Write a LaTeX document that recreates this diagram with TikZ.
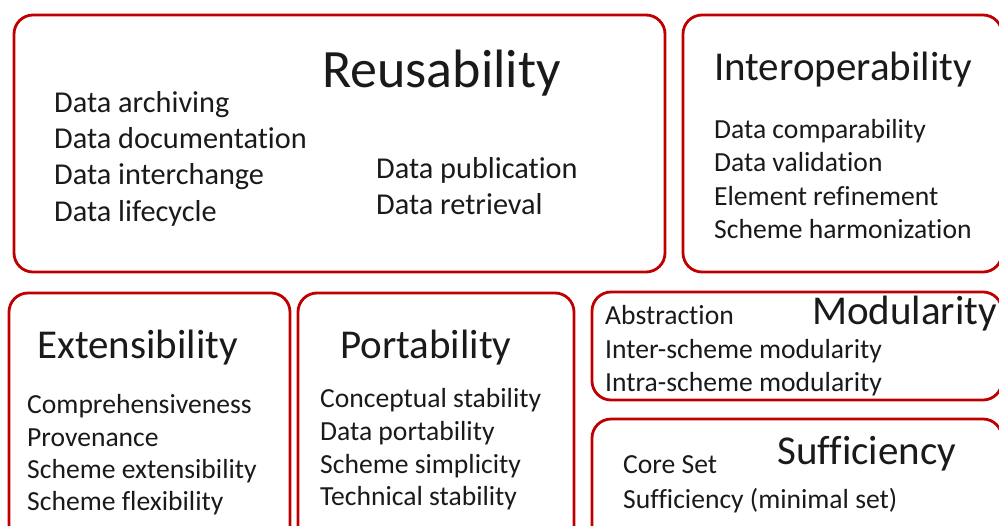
\documentclass[tikz,border=0pt]{standalone}
\usepackage{fontspec}
\setmainfont{Carlito}[RawFeature={-liga;-clig;-dlig;-calt}]
\definecolor{boxred}{HTML}{C00000}
\definecolor{ink}{HTML}{1A1A1A}
\tikzset{
  card/.style={draw=boxred, line width=2.8pt, rounded corners=19pt, fill=white},
  ttl/.style={anchor=base west, inner sep=0pt, text=ink, font=\fontsize{41}{49}\selectfont},
  bigttl/.style={anchor=base west, inner sep=0pt, text=ink, font=\fontsize{54}{64}\selectfont},
  itm/.style={anchor=base west, inner sep=0pt, text=ink, font=\fontsize{27.6}{33}\selectfont},
  bigitm/.style={anchor=base west, inner sep=0pt, text=ink, font=\fontsize{30.3}{36}\selectfont}
}
\begin{document}
\begin{tikzpicture}[x=1pt,y=-1pt]
\useasboundingbox (0,0) rectangle (999,525);
\clip (0,0) rectangle (999,525);
\fill[white] (0,0) rectangle (999,525);
% boxes
\draw[card] (14,15) rectangle (665,272);
\draw[card] (683,15) rectangle (1002,272);
\draw[card] (9,293) rectangle (290,545);
\draw[card] (298,293) rectangle (574,545);
\draw[card] (592,292) rectangle (1002,400);
\draw[card] (592,419) rectangle (1002,545);
% Reusability
\node[bigttl] (reu) at (322,87) {Reusability};
\node[bigitm] (r1) at (54,112) {Data archiving};
\node[bigitm] (r2) at (54,148) {Data documentation};
\node[bigitm] (r3) at (54,184) {Data interchange};
\node[bigitm] (r4) at (54,221) {Data lifecycle};
\node[bigitm] (r5) at (376,178) {Data publication};
\node[bigitm] (r6) at (376,214) {Data retrieval};
% Interoperability
\node[ttl] (int) at (714,80) {Interoperability};
\node[itm] (i1) at (714,138) {Data comparability};
\node[itm] (i2) at (714,171) {Data validation};
\node[itm] (i3) at (714,205) {Element refinement};
\node[itm] (i4) at (714,238) {Scheme harmonization};
% Extensibility
\node[ttl] (ext) at (37,358) {Extensibility};
\node[itm] (e1) at (27,413) {Comprehensiveness};
\node[itm] (e2) at (27,446) {Provenance};
\node[itm] (e3) at (27,478) {Scheme extensibility};
\node[itm] (e4) at (27,510) {Scheme flexibility};
% Portability
\node[ttl] (por) at (340,358) {Portability};
\node[itm] (p1) at (320,407) {Conceptual stability};
\node[itm] (p2) at (320,440) {Data portability};
\node[itm] (p3) at (320,473) {Scheme simplicity};
\node[itm] (p4) at (320,505) {Technical stability};
% Modularity
\node[ttl] (mod) at (812,324) {Modularity};
\node[itm] (m1) at (605,324) {Abstraction};
\node[itm] (m2) at (605,358) {Inter-scheme modularity};
\node[itm] (m3) at (605,391) {Intra-scheme modularity};
% Sufficiency
\node[ttl] (suf) at (777,464) {Sufficiency};
\node[itm] (s1) at (623,473) {Core Set};
\node[itm] (s2) at (623,508) {Sufficiency (minimal set)};
\end{tikzpicture}
\end{document}
